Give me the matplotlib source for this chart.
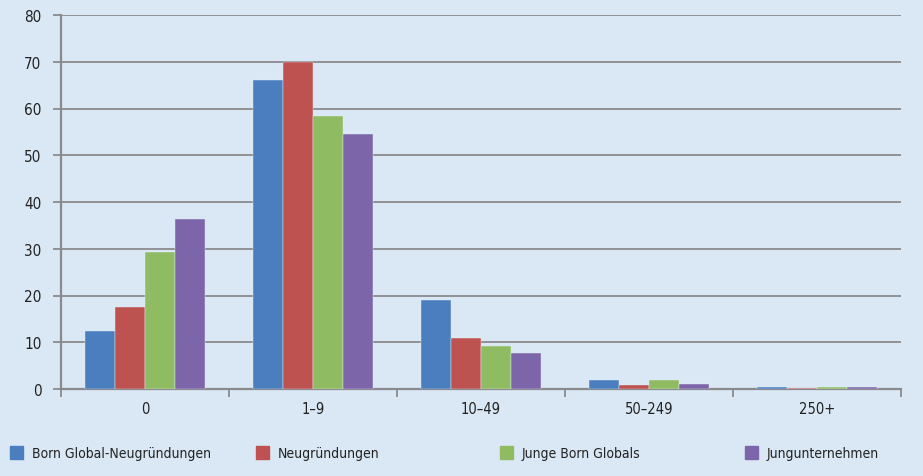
import numpy as np
import matplotlib
matplotlib.use('Agg')
import matplotlib.pyplot as plt
from matplotlib.patches import Rectangle

plt.rcParams['font.family'] = ['DejaVu Sans']
plt.rcParams['font.stretch'] = 'condensed'

# Beschäftigtengrößenklassen
categories = ['0', '1–9', '10–49', '50–249', '250+']
series_names = ['Born Global-Neugründungen', 'Neugründungen',
                'Junge Born Globals', 'Jungunternehmen']
born_global_neu = [12.4, 66.0, 19.0, 1.9, 0.4]
neugruendungen = [17.5, 70.0, 11.0, 0.8, 0.15]
junge_born_globals = [29.3, 58.3, 9.2, 1.9, 0.4]
jungunternehmen = [36.3, 54.5, 7.6, 1.0, 0.4]

colors = ['#4a7ebf', '#be5250', '#8fbc62', '#7c65a8']
bg = '#d9e8f4'
grid_c = '#8a8a8e'

fig = plt.figure(figsize=(9.23, 4.77), dpi=100, facecolor=bg)
ax = fig.add_axes([61/923, 87/477, 840/923, 374/477])
ax.set_facecolor(bg)

x = np.arange(len(categories))
w = 0.18
data = [born_global_neu, neugruendungen, junge_born_globals, jungunternehmen]
for i, (vals, c) in enumerate(zip(data, colors)):
    ax.bar(x + (i - 1.5) * w, vals, width=w, color=c, edgecolor='#e6eef7',
           linewidth=0.3, zorder=5)

ax.set_xlim(-0.5, len(categories) - 0.5)
ax.set_ylim(0, 80)
ax.set_yticks(range(0, 81, 10))
ax.yaxis.grid(True, color=grid_c, linewidth=1.3, zorder=0)

# Trennstriche zwischen den Gruppen, Beschriftung mittig
ax.set_xticks(np.arange(-0.5, len(categories)))
ax.set_xticklabels([])
ax.set_xticks(x, minor=True)
ax.set_xticklabels(categories, minor=True)
ax.tick_params(axis='x', which='major', length=6, width=1.3, color=grid_c)
ax.tick_params(axis='x', which='minor', length=0, pad=9, labelsize=10.5,
               labelcolor='#222222')
ax.tick_params(axis='y', length=6, width=1.3, color=grid_c, pad=8,
               labelsize=11, labelcolor='#222222')

for s in ['top', 'right']:
    ax.spines[s].set_visible(False)
for s in ['left', 'bottom']:
    ax.spines[s].set_color(grid_c)
    ax.spines[s].set_linewidth(1.6)
    ax.spines[s].set_zorder(4)

# Legende unten
leg_x = [10, 256, 500, 745]
for px, name, c in zip(leg_x, series_names, colors):
    fig.add_artist(Rectangle((px / 923, (477 - 460) / 477), 13 / 923, 13 / 477,
                             transform=fig.transFigure, color=c))
    fig.text((px + 22) / 923, (477 - 454) / 477, name, fontsize=10,
             color='#222222', va='center', ha='left')

fig.savefig('out.png', dpi=100, facecolor=bg)
